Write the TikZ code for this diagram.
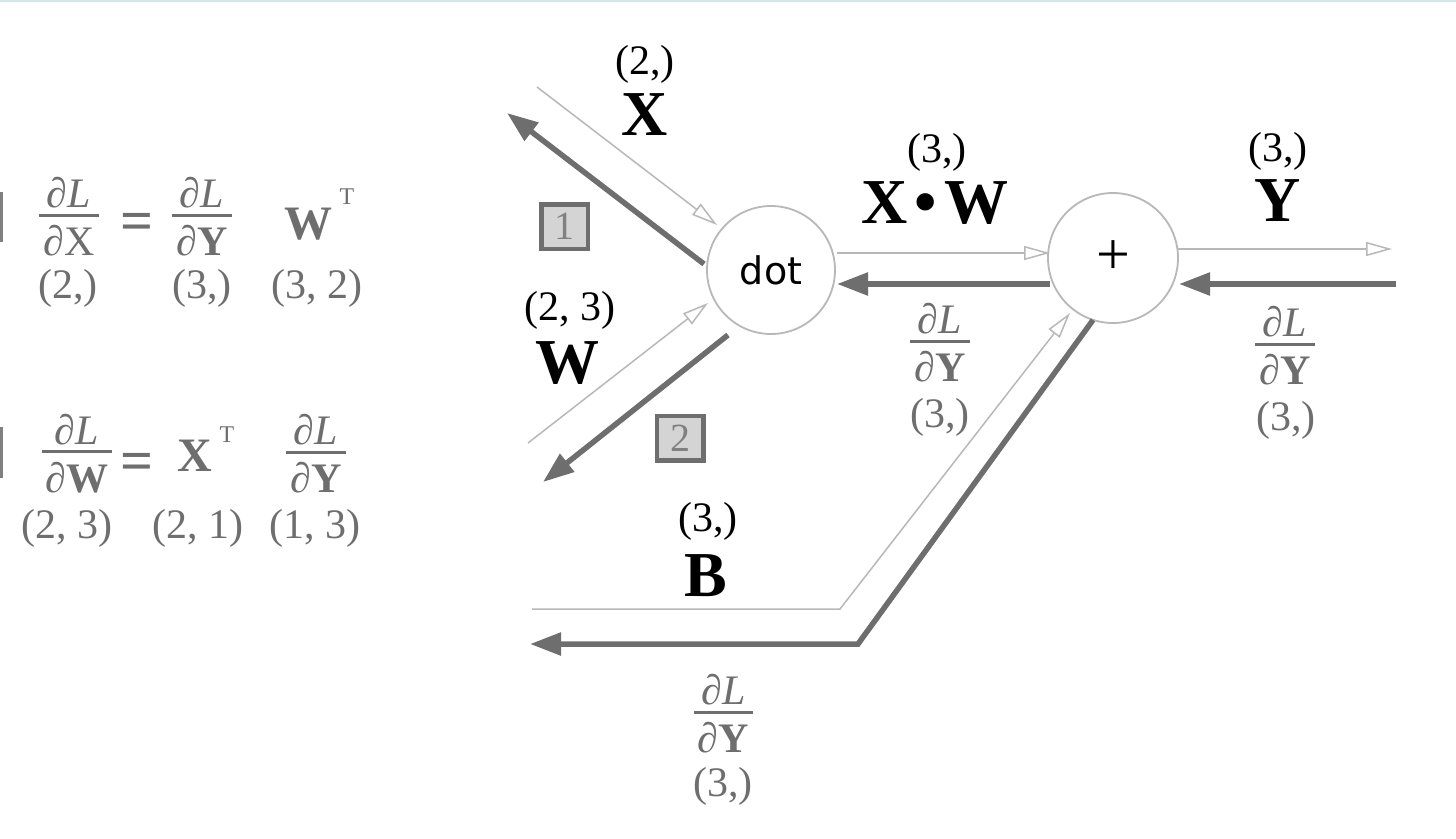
\documentclass[tikz,border=0pt]{standalone}
\usepackage{fontspec}
\setmainfont{Liberation Serif}
\newfontfamily\dotfont{DejaVu Sans}
\usetikzlibrary{arrows.meta}
\definecolor{thinc}{HTML}{B8B8B8}
\definecolor{thickc}{HTML}{6E6E6E}
\definecolor{gtext}{HTML}{6E6E6E}
\definecolor{boxfill}{HTML}{D4D4D4}
\definecolor{digitc}{HTML}{808080}
\definecolor{topline}{HTML}{D3E6E8}
\newcommand\fr[2]{\vbox{\halign{\hskip4pt\hfil##\hfil\hskip4pt\cr#1\cr\noalign{\kern5pt\hrule height3pt\kern9pt}#2\cr}}}
\newcommand\pd{\textit{∂}}
\begin{document}
\begin{tikzpicture}[x=1pt,y=-1pt,
  every node/.style={inner sep=0pt,outer sep=0pt},
  fwd/.style={draw=thinc,line width=1.5pt,-{Triangle[open,length=26pt,width=14pt]}},
  bwd/.style={draw=thickc,line width=5.5pt,-{Triangle[length=31pt,width=22pt]}},
  lbl/.style={font=\fontsize{42}{46}\selectfont},
  big/.style={font=\fontsize{64}{70}\selectfont\bfseries},
  grad/.style={font=\fontsize{42}{46}\selectfont,text=gtext},
  fbig/.style={font=\fontsize{48}{52}\selectfont\bfseries,text=gtext},
  sup/.style={font=\fontsize{24}{28}\selectfont,text=gtext},
  eqs/.style={font=\fontsize{58}{62}\selectfont\bfseries,text=gtext},
  numbox/.style={draw=thickc,line width=4.5pt,fill=boxfill,minimum width=46.5pt,minimum height=44.5pt,font=\fontsize{40}{44}\selectfont,text=digitc},
  circ/.style={circle,draw=thinc,line width=1.8pt,fill=white}]
\useasboundingbox (0,0) rectangle (1456,838);
\fill[white] (0,0) rectangle (1456,838);
\draw[topline,line width=2pt] (0,0.8) -- (1456,0.8);
\fill[gray] (0,192) rectangle (2.5,242);
\fill[gray] (0,427) rectangle (2.5,478);

% left formulas
\node[grad] (f1a) at (69,217) {\fr{\pd\textit{L}}{\pd X}};
\node[eqs] (f1eq) at (137,227) {=};
\node[grad] (f1b) at (202,217) {\fr{\pd\textit{L}}{\pd\textbf{Y}}};
\node[fbig] (f1w) at (308,224) {W};
\node[sup] (f1t) at (347,197) {T};
\node[grad] (f1l1) at (68,288) {(2,)};
\node[grad] (f1l2) at (202,288) {(3,)};
\node[grad] (f1l3) at (317,288) {(3, 2)};

\node[grad] (f2a) at (77,454) {\fr{\pd\textit{L}}{\pd\textbf{W}}};
\node[eqs] (f2eq) at (137,467) {=};
\node[fbig] (f2x) at (195,456) {X};
\node[sup] (f2t) at (227,435) {T};
\node[grad] (f2b) at (316,454) {\fr{\pd\textit{L}}{\pd\textbf{Y}}};
\node[grad] (f2l1) at (67,528) {(2, 3)};
\node[grad] (f2l2) at (198,528) {(2, 1)};
\node[grad] (f2l3) at (315,528) {(1, 3)};

% nodes
\node[circ,minimum size=128pt,font=\dotfont\fontsize{38}{44}\selectfont] (dot) at (771,270) {dot};
\node[circ,minimum size=130pt,font=\fontsize{60}{64}\selectfont] (plus) at (1113,258) {+};

% coordinates
\coordinate (xin) at (537,87);
\coordinate (xtip) at (717,225);
\coordinate (xbs) at (704,264);
\coordinate (xbt) at (507,113);
\coordinate (win) at (528,443);
\coordinate (wtip) at (708,303);
\coordinate (wbs) at (728,335);
\coordinate (wbt) at (543,482);
\coordinate (xws) at (837,253);
\coordinate (xwt) at (1050,253);
\coordinate (xwbs) at (1050,284);
\coordinate (xwbt) at (837,284);
\coordinate (ys) at (1178,249);
\coordinate (yt) at (1392,249);
\coordinate (ybs) at (1396,284);
\coordinate (ybt) at (1179,284);
\coordinate (bin) at (532,609);
\coordinate (bc1) at (840,609);
\coordinate (btip) at (1070,313);
\coordinate (bbs) at (1093,320);
\coordinate (bc2) at (858,644);
\coordinate (bbt) at (530,644);

% connectors
\draw[fwd] (xin) -- (xtip);
\draw[bwd] (xbs) -- (xbt);
\draw[fwd] (win) -- (wtip);
\draw[bwd] (wbs) -- (wbt);
\draw[fwd] (xws) -- (xwt);
\draw[bwd] (xwbs) -- (xwbt);
\draw[fwd] (ys) -- (yt);
\draw[bwd] (ybs) -- (ybt);
\draw[fwd] (bin) -- (bc1) -- (btip);
\draw[bwd,line join=miter] (bbs) -- (bc2) -- (bbt);

% number boxes
\node[numbox] (b1) at (564.5,226.5) {1};
\node[numbox] (b2) at (680,438) {2};

% labels
\node[lbl] (xdim) at (645,64) {(2,)};
\node[big] (xlab) at (645,115) {X};
\node[lbl] (wdim) at (570,310) {(2, 3)};
\node[big] (wlab) at (567,363) {W};
\node[lbl] (xwdim) at (937,152) {(3,)};
\node[big] (xwlab) at (935,203) {X\kern7pt•\kern7pt W};
\node[lbl] (ydim) at (1278,151) {(3,)};
\node[big] (ylab) at (1278,201) {Y};
\node[lbl] (bdim) at (708,521) {(3,)};
\node[big] (blab) at (706,576) {B};

\node[grad] (g1) at (940,343) {\fr{\pd\textit{L}}{\pd\textbf{Y}}};
\node[grad] (g1d) at (940,417) {(3,)};
\node[grad] (g2) at (1285,346) {\fr{\pd\textit{L}}{\pd\textbf{Y}}};
\node[grad] (g2d) at (1286,420) {(3,)};
\node[grad] (g3) at (723.5,714) {\fr{\pd\textit{L}}{\pd\textbf{Y}}};
\node[grad] (g3d) at (723,786) {(3,)};
\end{tikzpicture}
\end{document}
